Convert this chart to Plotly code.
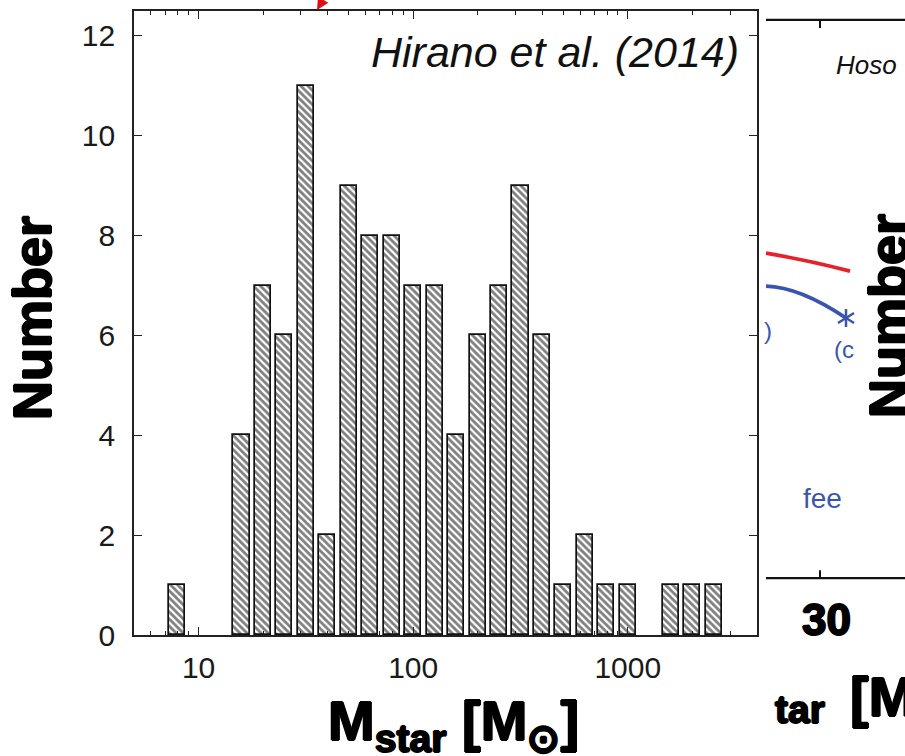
import numpy as np
import plotly.graph_objects as go

# ---- data ----
log_mass_bins = [0.9, 1.2, 1.3, 1.4, 1.5, 1.6, 1.7, 1.8, 1.9, 2.0, 2.1, 2.2,
                 2.3, 2.4, 2.5, 2.6, 2.7, 2.8, 2.9, 3.0, 3.2, 3.3, 3.4]
counts = [1, 4, 7, 6, 11, 2, 9, 8, 8, 7, 7, 4,
          6, 7, 9, 6, 1, 2, 1, 1, 1, 1, 1]
x_tick_vals = [1, 2, 3]
x_tick_text = ["10", "100", "1000"]
y_tick_vals = [0, 2, 4, 6, 8, 10, 12]
mass_min, mass_max = 5, 4000

# fragment of the neighbouring (cropped) panel on the right (page pixels)
red_px = [(766, 252), (808, 259), (850, 270)]
blue_px = [(766, 285), (800, 286), (846, 317)]

W, H = 905, 756
L, R, T, B = 134, 148, 9, 121
PW, PH = W - L - R, H - T - B

def xp(x):
    return (x - L) / PW

def yp(y):
    return (H - B - y) / PH

fig = go.Figure()
fig.add_trace(go.Bar(
    x=log_mass_bins, y=counts, width=0.075,
    marker=dict(color="white",
                line=dict(color="#111", width=1.7),
                pattern=dict(shape="\\", fgcolor="#000", bgcolor="white",
                             size=5, solidity=0.55)),
    showlegend=False, hoverinfo="x+y"))

minor_vals = [np.log10(k * 10 ** n) for n in range(0, 4) for k in range(2, 10)
              if np.log10(mass_min) < np.log10(k * 10 ** n) < np.log10(mass_max)]

tickfont = dict(family="Liberation Sans, Arial, sans-serif", size=30, color="#1a1a1a")
fig.update_xaxes(range=[np.log10(mass_min), np.log10(mass_max)],
                 tickmode="array", tickvals=x_tick_vals, ticktext=x_tick_text,
                 ticks="inside", ticklen=8, tickwidth=1.2, tickcolor="#222",
                 minor=dict(tickmode="array", tickvals=minor_vals, ticks="inside",
                            ticklen=4, tickwidth=1, tickcolor="#222"),
                 showline=True, linecolor="#222", linewidth=1.6, mirror="ticks",
                 showgrid=False, zeroline=False, tickfont=tickfont,
                 ticklabelstandoff=5)
fig.update_yaxes(range=[0, 12.5], tickmode="array", tickvals=y_tick_vals,
                 ticks="inside", ticklen=8, tickwidth=1.2, tickcolor="#222",
                 showline=True, linecolor="#222", linewidth=1.6, mirror="ticks",
                 showgrid=False, zeroline=False, tickfont=tickfont,
                 ticklabelstandoff=11)

heavy = "Liberation Sans, Arial Black, Arial, sans-serif"
thick = "1px 0 0 #000, -1px 0 0 #000, 0 1px 0 #000, 0 -1px 0 #000"
blue = "#3a55b0"


def text_ann(text, x, y, size, xanchor="center", **kw):
    d = dict(text=text, xref="paper", yref="paper", x=xp(x), y=yp(y),
             xanchor=xanchor, yanchor="middle", showarrow=False)
    d.update(kw)
    d["font"] = dict(size=size, **d.get("font", {}))
    return d


ann = [
    text_ann("Hirano et al. (2014)", 741, 50, 43, xanchor="right",
             font=dict(family="Liberation Sans, Arial, sans-serif", style="italic", color="#111")),
    text_ann("Number", 32, 317, 54, textangle=-90,
             font=dict(family=heavy, weight="bold", color="black", shadow=thick)),
    text_ann("M<sub>star</sub> [M<sub>⊙</sub>]", 454, 725, 56,
             font=dict(family=heavy, weight="bold", color="black", shadow=thick)),
    # right cropped panel fragments
    text_ann("Hoso", 834, 63, 26, xanchor="left",
             font=dict(family="Liberation Sans, Arial", style="italic", color="#111")),
    text_ann("(c", 832, 349, 24, xanchor="left",
             font=dict(family="Liberation Sans, Arial", color=blue)),
    text_ann(")", 762, 330, 24, xanchor="left",
             font=dict(family="Liberation Sans, Arial", color=blue)),
    text_ann("fee", 801, 498, 28, xanchor="left",
             font=dict(family="Liberation Sans, Arial", color=blue)),
    text_ann("Number", 888, 315, 54, textangle=-90, bgcolor="white",
             font=dict(family=heavy, weight="bold", color="black", shadow=thick)),
    text_ann("30", 826, 619, 44,
             font=dict(family=heavy, weight="bold", color="black", shadow=thick)),
    text_ann("tar", 800, 710, 39,
             font=dict(family=heavy, weight="bold", color="black", shadow=thick)),
    text_ann("[M", 848, 697, 56, xanchor="left",
             font=dict(family=heavy, weight="bold", color="black", shadow=thick)),
]
# red arrow tip at the top edge
ann.append(dict(text="", xref="paper", yref="paper", x=xp(317), y=yp(8),
                ax=6, ay=-14, showarrow=True, arrowhead=2, arrowsize=1.2,
                arrowwidth=2, arrowcolor="#e01010"))
fig.update_layout(annotations=ann)

shapes = []
for ypx, t1 in [(18, 26), (578, 570)]:
    shapes.append(dict(type="line", xref="paper", yref="paper",
                       x0=xp(766), x1=xp(905), y0=yp(ypx), y1=yp(ypx),
                       line=dict(color="#111", width=2.2)))
    shapes.append(dict(type="line", xref="paper", yref="paper",
                       x0=xp(820), x1=xp(820), y0=yp(ypx), y1=yp(t1),
                       line=dict(color="#111", width=2)))


def curve(pts):
    (x0, y0), (x1, y1), (x2, y2) = [(xp(a), yp(b)) for a, b in pts]
    return f"M {x0},{y0} Q {x1},{y1} {x2},{y2}"


shapes.append(dict(type="path", xref="paper", yref="paper", path=curve(red_px),
                   line=dict(color="#e8202a", width=3.8)))
shapes.append(dict(type="path", xref="paper", yref="paper", path=curve(blue_px),
                   line=dict(color=blue, width=3.8)))
# asterisk marker at the end of the blue curve
cx, cy = blue_px[-1]
for dx, dy in [(0, 9), (8, 5), (8, -5)]:
    shapes.append(dict(type="line", xref="paper", yref="paper",
                       x0=xp(cx - dx), y0=yp(cy - dy), x1=xp(cx + dx), y1=yp(cy + dy),
                       line=dict(color=blue, width=2.5)))
fig.update_layout(shapes=shapes)

fig.update_layout(
    width=W, height=H,
    margin=dict(l=L, r=R, t=T, b=B),
    paper_bgcolor="white", plot_bgcolor="white",
    bargap=0,
)
fig.write_html("out.html")
